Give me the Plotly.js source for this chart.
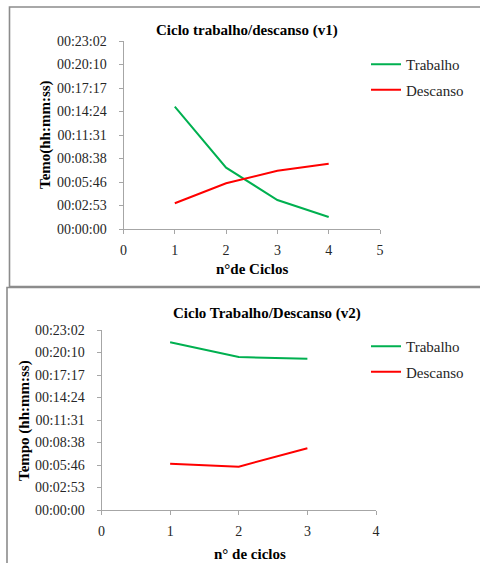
<!DOCTYPE html>
<html>
<head>
<meta charset="utf-8">
<script src="https://cdn.plot.ly/plotly-3.0.1.min.js"></script>
<style>html,body{margin:0;padding:0;background:#fff;}#chart{width:480px;height:563px;}</style>
</head>
<body>
<div id="chart"></div>
<script>
// Data (seconds)
const ciclosV1 = [1, 2, 3, 4];
const trabalhoV1 = [900, 451, 213, 88];
const descansoV1 = [189, 336, 429, 480];
const ciclosV2 = [1, 2, 3];
const trabalhoV2 = [1288, 1175, 1162];
const descansoV2 = [356, 333, 474];
const yTickVals = [0, 172.8, 345.6, 518.4, 691.2, 864, 1036.8, 1209.6, 1382.4];
const yTickText = ['00:00:00','00:02:53','00:05:46','00:08:38','00:11:31','00:14:24','00:17:17','00:20:10','00:23:02'];
const seriesNames = ['Trabalho', 'Descanso'];

const W = 480, H = 563;
const px = v => v / W;
const py = v => 1 - v / H;
const FONT = 'Liberation Serif';
const green = '#00b050', red = '#ff0000';
const axisCol = '#a6a6a6';

const traces = [
  {x: ciclosV1, y: trabalhoV1, name: seriesNames[0], mode: 'lines', line: {color: green, width: 2}, xaxis: 'x', yaxis: 'y', legend: 'legend', legendgroup: 'a'},
  {x: ciclosV1, y: descansoV1, name: seriesNames[1], mode: 'lines', line: {color: red, width: 2}, xaxis: 'x', yaxis: 'y', legend: 'legend', legendgroup: 'b'},
  {x: ciclosV2, y: trabalhoV2, name: seriesNames[0], mode: 'lines', line: {color: green, width: 2}, xaxis: 'x2', yaxis: 'y2', legend: 'legend2', legendgroup: 'c'},
  {x: ciclosV2, y: descansoV2, name: seriesNames[1], mode: 'lines', line: {color: red, width: 2}, xaxis: 'x2', yaxis: 'y2', legend: 'legend2', legendgroup: 'd'}
];

const tickFont = {family: FONT, size: 14, color: '#262626'};
function xax(domain, range, anchor) {
  return {domain, range, anchor, dtick: 1, tick0: 0, showgrid: false, zeroline: false, showline: true,
    linecolor: axisCol, linewidth: 1, ticks: 'outside', ticklen: 4, tickcolor: axisCol, tickfont: tickFont,
    ticklabelstandoff: 4, fixedrange: true};
}
function yax(domain, anchor) {
  return {domain, range: [0, 1382.4], anchor, tickvals: yTickVals, ticktext: yTickText, showgrid: false, zeroline: false,
    showline: true, linecolor: axisCol, linewidth: 1, ticks: 'outside', ticklen: 4, tickcolor: axisCol, tickfont: tickFont,
    ticklabelstandoff: 9, fixedrange: true};
}

const legendBase = {font: {family: FONT, size: 15, color: '#262626'}, bgcolor: 'rgba(0,0,0,0)', borderwidth: 0,
  xanchor: 'left', yanchor: 'top', tracegroupgap: 3, itemwidth: 30, traceorder: 'grouped'};

const titleFont = {family: FONT, size: 15, color: '#000'};
function ann(text, x, y, angle) {
  return {text: '<b>' + text + '</b>', xref: 'paper', yref: 'paper', x: px(x), y: py(y), textangle: angle || 0,
    xanchor: 'center', yanchor: 'middle', showarrow: false, font: titleFont};
}
const layout = {
  width: W, height: H,
  margin: {l: 0, r: 0, t: 0, b: 0, pad: 0},
  paper_bgcolor: '#fff', plot_bgcolor: 'rgba(0,0,0,0)',
  showlegend: true,
  xaxis: xax([px(123.5), px(380)], [0, 5], 'y'),
  yaxis: yax([py(229), py(41)], 'x'),
  xaxis2: xax([px(101.5), px(376)], [0, 4], 'y2'),
  yaxis2: yax([py(510), py(330)], 'x2'),
  legend: Object.assign({}, legendBase, {x: px(366), y: py(48)}),
  legend2: Object.assign({}, legendBase, {x: px(366), y: py(330)}),
  shapes: [
    {type: 'rect', xref: 'paper', yref: 'paper', x0: px(9.5), x1: px(495), y0: py(286.5), y1: py(7), line: {color: '#8c8c8c', width: 1.6}, fillcolor: 'rgba(0,0,0,0)', layer: 'below'},
    {type: 'rect', xref: 'paper', yref: 'paper', x0: px(7), x1: px(495), y0: py(580), y1: py(287.5), line: {color: '#8c8c8c', width: 1.6}, fillcolor: 'rgba(0,0,0,0)', layer: 'below'}
  ],
  annotations: [
    ann('Ciclo trabalho/descanso (v1)', 247, 30),
    ann('Temo(hh:mm:ss)', 45, 135, -90),
    ann('n°de Ciclos', 252, 269),
    ann('Ciclo Trabalho/Descanso (v2)', 267, 313),
    ann('Tempo (hh:mm:ss)', 24, 421, -90),
    ann('n° de ciclos', 250, 554)
  ]
};

Plotly.newPlot('chart', traces, layout, {staticPlot: true, displayModeBar: false});
</script>
</body>
</html>
